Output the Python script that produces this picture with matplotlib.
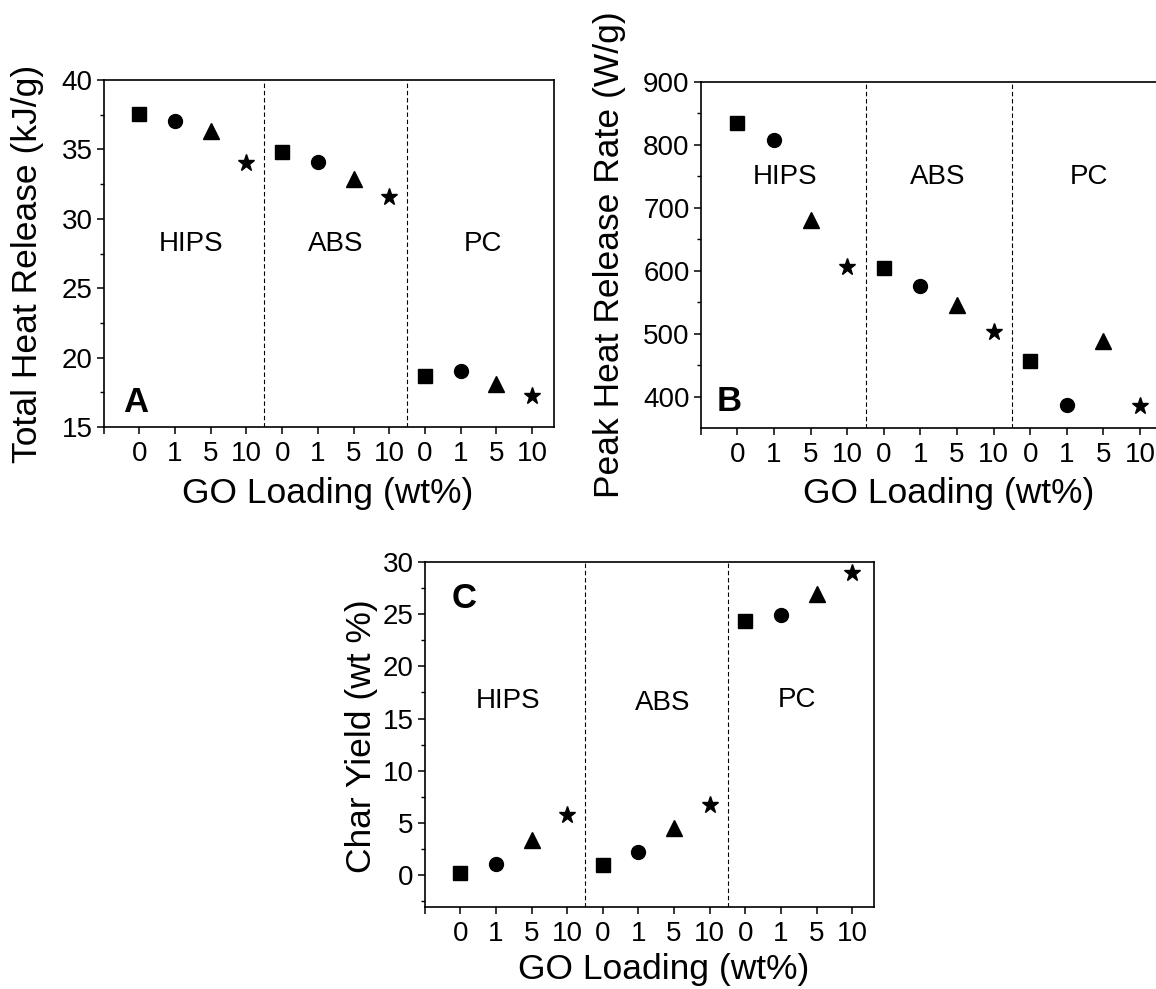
import matplotlib
matplotlib.use("Agg")
import matplotlib.pyplot as plt
from matplotlib.ticker import MultipleLocator, FixedLocator

plt.rcParams['font.family'] = ['Liberation Sans', 'DejaVu Sans']

# ---- data ----
polymers = ["HIPS", "ABS", "PC"]
loadings = ["0", "1", "5", "10"]
markers = ["s", "o", "^", "*"]

total_heat_release = {          # kJ/g
    "HIPS": [37.55, 37.07, 36.35, 34.0],
    "ABS":  [34.8, 34.1, 32.9, 31.6],
    "PC":   [18.7, 19.05, 18.1, 17.2],
}
peak_hrr = {                    # W/g
    "HIPS": [834, 807, 680, 606],
    "ABS":  [604, 576, 545, 503],
    "PC":   [456, 387, 488, 385],
}
char_yield = {                  # wt %
    "HIPS": [0.2, 1.1, 3.4, 5.8],
    "ABS":  [1.0, 2.2, 4.55, 6.7],
    "PC":   [24.3, 24.9, 26.9, 28.9],
}

W, H = 1156, 989
fig = plt.figure(figsize=(W / 100, H / 100), dpi=100)


def px_axes(left, top, right, bottom):
    return fig.add_axes([left / W, 1 - bottom / H, (right - left) / W, (bottom - top) / H])


marker_sizes = {"s": 9.5, "o": 10, "^": 11, "*": 12.5}
TICK_FS = 20
GROUP_FS = 20
LABEL_FS = 25.5


def draw_panel(ax, data, ylim, ymajor, yminor, group_y, group_x, letter, letter_xy, hide_right=False):
    for g, poly in enumerate(polymers):
        for i, m in enumerate(markers):
            ax.plot(1 + 4 * g + i, data[poly][i], marker=m, color="black",
                    markersize=marker_sizes[m], linestyle="none", clip_on=False)
    for xv in (4.5, 8.5):
        ax.axvline(xv, color="black", linestyle=(0, (4, 2.5)), linewidth=0.8)
    ax.set_xlim(0, 12.6)
    ax.set_ylim(*ylim)
    ax.xaxis.set_major_locator(FixedLocator(list(range(13))))
    ax.set_xticklabels([""] + loadings * 3)
    ax.yaxis.set_major_locator(MultipleLocator(ymajor))
    ax.yaxis.set_minor_locator(MultipleLocator(yminor))
    ax.tick_params(axis="both", which="major", direction="out", labelsize=TICK_FS, width=1.1)
    ax.tick_params(axis="y", which="major", length=5, pad=3)
    ax.tick_params(axis="y", which="minor", length=3, width=1.0, direction="out")
    ax.tick_params(axis="x", which="major", length=5, pad=5)
    for s in ax.spines.values():
        s.set_linewidth(1.2)
    if hide_right:
        ax.spines["right"].set_visible(False)
    for (name, gx, gy) in zip(polymers, group_x, group_y):
        ax.text(gx, gy, name, ha="center", va="center", fontsize=GROUP_FS)
    ax.text(letter_xy[0], letter_xy[1], letter, ha="center", va="center",
            fontsize=25, fontweight="bold")


# Panel A
axA = px_axes(103.6, 80, 553.6, 427)
draw_panel(axA, total_heat_release, (15, 40), 5, 2.5,
           [28.2, 28.2, 28.2], [2.45, 6.5, 10.62], "A", (0.885, 16.8))
fig.text(27.5 / W, 1 - 264 / H, "Total Heat Release (kJ/g)", rotation=90,
         ha="center", va="center", fontsize=LABEL_FS)
fig.text(328 / W, 1 - 493 / H, "GO Loading (wt%)", ha="center", va="center", fontsize=LABEL_FS)

# Panel B
axB = px_axes(700.8, 81.7, 1162, 427.7)
draw_panel(axB, peak_hrr, (350.8, 900), 100, 50,
           [749, 749, 749], [2.3, 6.48, 10.6], "B", (0.77, 392), hide_right=True)
fig.text(610 / W, 1 - 255 / H, "Peak Heat Release Rate (W/g)", rotation=90,
         ha="center", va="center", fontsize=LABEL_FS)
fig.text(949 / W, 1 - 493 / H, "GO Loading (wt%)", ha="center", va="center", fontsize=LABEL_FS)

# Panel C
axC = px_axes(424.7, 561.7, 873.6, 906.7)
draw_panel(axC, char_yield, (-3, 30), 5, 2.5,
           [16.7, 16.5, 16.8], [2.34, 6.67, 10.46], "C", (1.11, 26.5))
fig.text(361 / W, 1 - 736 / H, "Char Yield (wt %)", rotation=90,
         ha="center", va="center", fontsize=LABEL_FS)
fig.text(664 / W, 1 - 970 / H, "GO Loading (wt%)", ha="center", va="center", fontsize=LABEL_FS)

fig.savefig("out.png", dpi=100)
